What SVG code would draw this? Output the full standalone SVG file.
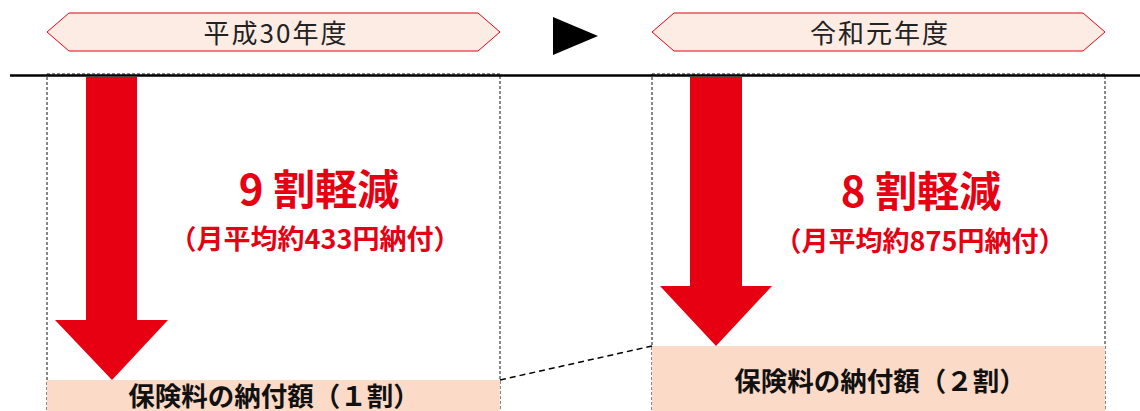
<svg xmlns="http://www.w3.org/2000/svg" width="1140" height="411" viewBox="0 0 1140 411">
<style>
.hex{fill:#fdece4;stroke:#e60012;stroke-width:1}
.hdr{font-family:"Noto Sans CJK JP","Noto Sans",sans-serif;font-size:26px;font-weight:400;letter-spacing:2px;fill:#222;text-anchor:middle}
.big{font-family:"Noto Sans CJK JP","Noto Sans",sans-serif;font-size:42px;font-weight:700;fill:#e60012;text-anchor:middle}
.sub{font-family:"Noto Sans CJK JP","Noto Sans",sans-serif;font-size:27px;font-weight:700;fill:#e60012;text-anchor:middle}
.lbl{font-family:"Noto Sans CJK JP","Noto Sans",sans-serif;font-size:26.5px;font-weight:700;fill:#111;text-anchor:middle}
.box{fill:none;stroke:#111;stroke-width:1;stroke-dasharray:3 2}
.pay{fill:#fbdac7}
.arr{fill:#e60012}
</style>
<rect width="1140" height="411" fill="#fff"/>
<g id="header-h30">
<polygon class="hex" points="47,32 69,13 478,13 500,32 478,51 69,51"/>
<text class="hdr" x="276" y="43">平成30年度</text>
</g>
<g id="next-marker">
<polygon points="553,17 598,36 553,55" fill="#000"/>
</g>
<g id="header-r1">
<polygon class="hex" points="652,32 674,13 1083,13 1105,32 1083,51 674,51"/>
<text class="hdr" x="880" y="43">令和元年度</text>
</g>
<g id="column-h30">
<rect class="box" x="47" y="74" width="453" height="345"/>
<rect class="pay" x="47" y="380" width="453" height="31"/>
<polygon class="arr" points="86,77 137,77 137,320 168,320 112,380 55,320 86,320"/>
<text class="big" x="319" y="205">9 割軽減</text>
<text class="sub" x="315" y="249">（月平均約433円納付）</text>
<text class="lbl" x="274" y="406">保険料の納付額（１割）</text>
</g>
<g id="column-r1">
<rect class="box" x="652" y="74" width="453" height="345"/>
<rect class="pay" x="652" y="346" width="453" height="65"/>
<polygon class="arr" points="690,77 742,77 742,286 772,286 716,346 660,286 690,286"/>
<text class="big" x="921" y="207">8 割軽減</text>
<text class="sub" x="920" y="251">（月平均約875円納付）</text>
<text class="lbl" x="880" y="391">保険料の納付額（２割）</text>
</g>
<g id="connectors">
<line x1="10" y1="75.5" x2="1140" y2="75.5" stroke="#000" stroke-width="2.5"/>
<line x1="500" y1="380" x2="652" y2="346" stroke="#000" stroke-width="1.5" stroke-dasharray="6 4"/>
</g>
</svg>
